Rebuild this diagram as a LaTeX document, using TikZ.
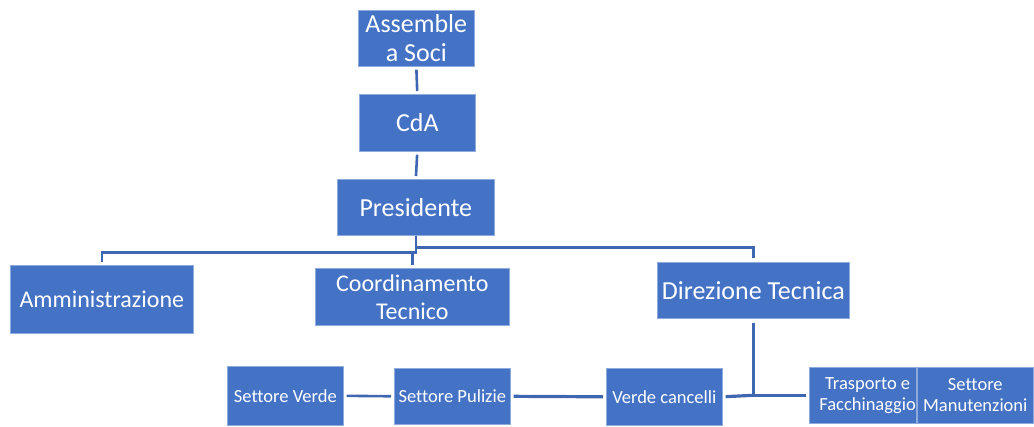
\documentclass[tikz,border=0pt]{standalone}
\usepackage{fontspec}
\setmainfont{Carlito}[Ligatures=NoCommon]
\definecolor{boxblue}{HTML}{4472C4}
\definecolor{boxedge}{HTML}{8FAADC}
\definecolor{linkblue}{HTML}{3F67B1}
\begin{document}
\begin{tikzpicture}[x=1pt,y=-1pt,
  box/.style={rectangle, fill=boxblue, draw=boxedge, line width=0.6pt, text=white, align=center, inner sep=0pt, anchor=north west},
  big/.style={font=\fontsize{26}{28.5}\selectfont},
  mid/.style={font=\fontsize{24}{28}\selectfont},
  small/.style={font=\fontsize{18.5}{21}\selectfont},
  link/.style={draw=linkblue, line width=2.6pt},
  thick link/.style={draw=linkblue, line width=3.2pt}]
\useasboundingbox (0,0) rectangle (1034,426);
% top column
\node[box,big,minimum width=116pt,minimum height=56pt] (as) at (358,10) {Assemble\\a Soci};
\node[box,big,minimum width=116pt,minimum height=57pt] (cda) at (359,94) {CdA};
\node[box,big,minimum width=157pt,minimum height=56pt] (pres) at (337,179) {Presidente};
% middle row
\node[box,mid,minimum width=183pt,minimum height=68pt] (amm) at (10,265) {Amministrazione};
\node[box,mid,minimum width=194pt,minimum height=57pt] (coord) at (315,268) {Coordinamento\\Tecnico};
\node[box,big,minimum width=192pt,minimum height=56pt] (dir) at (657,262) {Direzione Tecnica};
% bottom row
\node[box,small,minimum width=116pt,minimum height=59pt] (sv) at (227,366) {Settore Verde};
\node[box,small,minimum width=116pt,minimum height=56pt] (sp) at (394,368) {Settore Pulizie};
\node[box,small,minimum width=116pt,minimum height=57pt] (vc) at (606,368) {Verde cancelli};
\node[box,small,minimum width=105pt,minimum height=56pt] (tf) at (809,367) {\hspace*{10pt}Trasporto e\\\hspace*{10pt}Facchinaggio};
\node[box,small,minimum width=116pt,minimum height=56pt] (sm) at (917,367) {Settore\\Manutenzioni};
% connectors
\draw[link,shorten <=3pt,shorten >=3pt] (as.south) -- (cda.north);
\draw[link,shorten <=3pt,shorten >=3pt] (cda.south) -- (pres.north);
\draw[link,shorten >=3pt] (pres.south) -- ++(0,17) -| (amm.north);
\draw[link,shorten >=3pt] (pres.south) -- ++(0,17) -| (coord.north);
\draw[link,shorten >=4pt] (pres.south) -- ++(0,12) -| (dir.north);
\coordinate (j) at (dir.south |- tf.west);
\draw[thick link,shorten <=4pt] (dir.south) -- (j);
\draw[thick link,shorten <=3pt] (vc.east) -- (j);
\draw[link,shorten >=3pt] (j) -- (tf.west);
\draw[thick link,shorten <=3pt,shorten >=3pt] (sp.east) -- (vc.west);
\draw[link,shorten <=3pt,shorten >=3pt] (sv.east) -- (sp.west);
\end{tikzpicture}
\end{document}
